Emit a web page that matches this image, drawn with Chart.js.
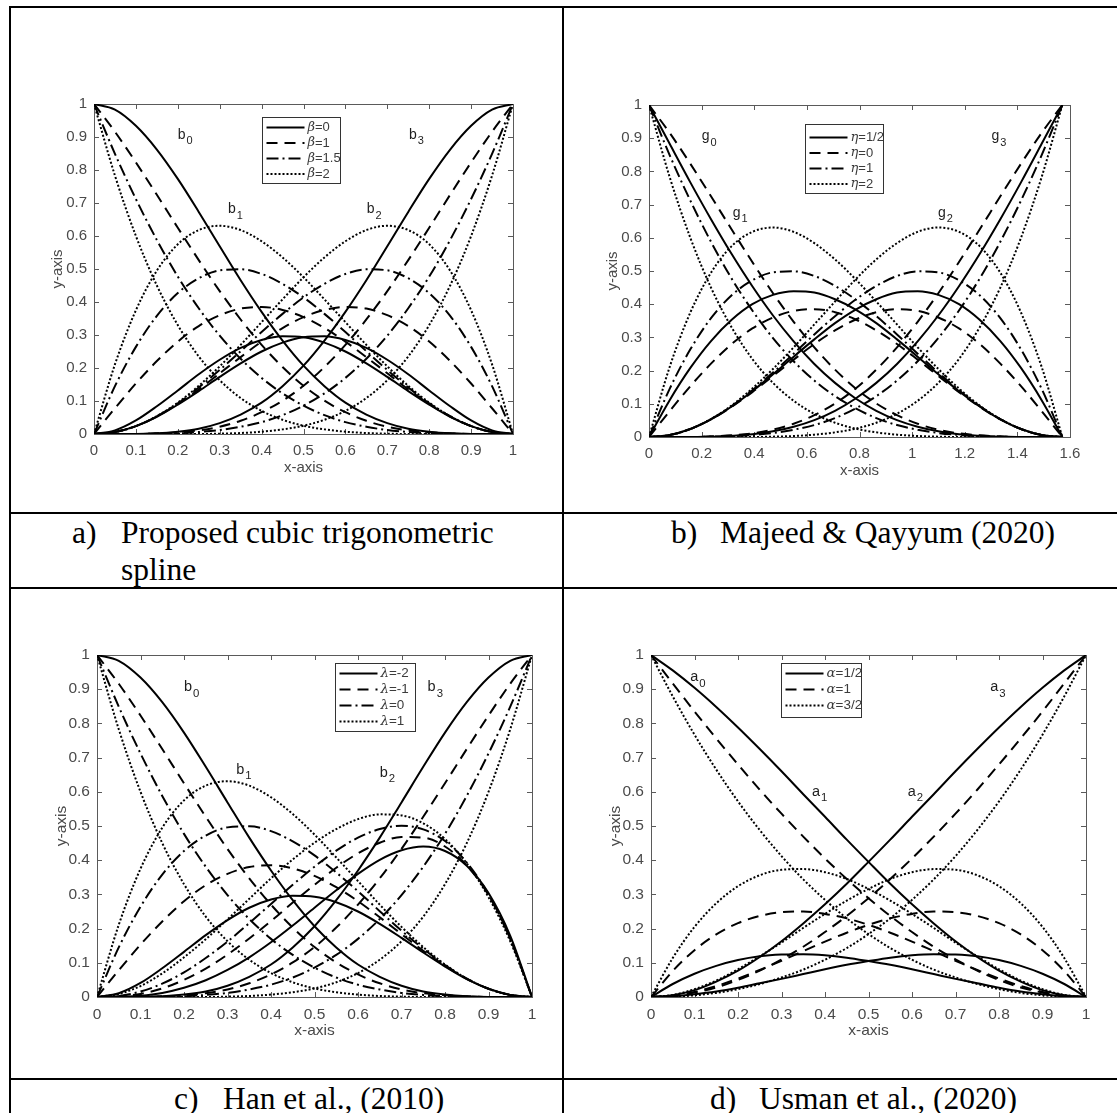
<!DOCTYPE html>
<html>
<head>
<meta charset="utf-8">
<script src="https://cdn.jsdelivr.net/npm/chart.js@4.4.1/dist/chart.umd.min.js"></script>
<style>
  html, body { margin: 0; padding: 0; background: #fff; }
  #page { position: relative; width: 1117px; height: 1113px; overflow: hidden; background: #fff; }
  .rule { position: absolute; background: #000; }
  .cap { position: absolute; font-family: "Liberation Serif", "Times New Roman", serif; font-size: 31.5px; line-height: 37px; color: #000; white-space: nowrap; }
  .panel { position: absolute; }
  .panel canvas { display: block; }
</style>
</head>
<body>
<div id="page">
  <div class="rule" style="left:9px;top:6px;width:1108px;height:2px"></div>
  <div class="rule" style="left:9px;top:6px;width:2px;height:1107px"></div>
  <div class="rule" style="left:562px;top:6px;width:2px;height:1107px"></div>
  <div class="rule" style="left:9px;top:512px;width:1108px;height:2px"></div>
  <div class="rule" style="left:9px;top:587px;width:1108px;height:2px"></div>
  <div class="rule" style="left:9px;top:1078px;width:1108px;height:2px"></div>

  <div class="panel" id="pa"><canvas></canvas></div>
  <div class="panel" id="pb"><canvas></canvas></div>
  <div class="panel" id="pc"><canvas></canvas></div>
  <div class="panel" id="pd"><canvas></canvas></div>

  <div class="cap" style="left:72px;top:514px">a)</div>
  <div class="cap" style="left:121px;top:514px">Proposed cubic trigonometric</div>
  <div class="cap" style="left:121px;top:551px">spline</div>
  <div class="cap" style="left:671px;top:514px">b)</div>
  <div class="cap" style="left:720px;top:514px">Majeed &amp; Qayyum (2020)</div>
  <div class="cap" style="left:174px;top:1080px">c)</div>
  <div class="cap" style="left:223px;top:1080px">Han et al., (2010)</div>
  <div class="cap" style="left:710px;top:1080px">d)</div>
  <div class="cap" style="left:759px;top:1080px">Usman et al., (2020)</div>
</div>

<script>
// ---------- sample grids and tick labels ----------
const tGrid = [0, 0.05, 0.1, 0.15, 0.2, 0.25, 0.3, 0.35, 0.4, 0.45, 0.5, 0.55, 0.6, 0.65, 0.7, 0.75, 0.8, 0.85, 0.9, 0.95, 1];
const thetaGrid = [0, 0.0785, 0.1571, 0.2356, 0.3142, 0.3927, 0.4712, 0.5498, 0.6283, 0.7069, 0.7854, 0.8639, 0.9425, 1.0210, 1.0996, 1.1781, 1.2566, 1.3352, 1.4137, 1.4923, 1.5708];

const unitTicks = [0, 0.1, 0.2, 0.3, 0.4, 0.5, 0.6, 0.7, 0.8, 0.9, 1];
const unitTickLabels = ['0', '0.1', '0.2', '0.3', '0.4', '0.5', '0.6', '0.7', '0.8', '0.9', '1'];
const thetaTicks = [0, 0.2, 0.4, 0.6, 0.8, 1, 1.2, 1.4, 1.6];
const thetaTickLabels = ['0', '0.2', '0.4', '0.6', '0.8', '1', '1.2', '1.4', '1.6'];

// ---------- (a) proposed basis, beta = 0, 1, 1.5, 2 ----------
const propB0_beta0   = [1, 0.983, 0.934, 0.862, 0.773, 0.673, 0.569, 0.466, 0.370, 0.283, 0.207, 0.145, 0.095, 0.059, 0.033, 0.016, 0.007, 0.002, 0, 0, 0];
const propB1_beta0   = [0, 0.011, 0.041, 0.084, 0.132, 0.181, 0.225, 0.261, 0.285, 0.296, 0.293, 0.277, 0.250, 0.214, 0.173, 0.130, 0.089, 0.052, 0.024, 0.006, 0];
const propB2_beta0   = [0, 0.006, 0.024, 0.052, 0.089, 0.130, 0.173, 0.214, 0.250, 0.277, 0.293, 0.296, 0.285, 0.261, 0.225, 0.181, 0.132, 0.084, 0.041, 0.011, 0];
const propB3_beta0   = [0, 0, 0, 0.002, 0.007, 0.016, 0.033, 0.059, 0.095, 0.145, 0.207, 0.283, 0.370, 0.466, 0.569, 0.673, 0.773, 0.862, 0.934, 0.983, 1];
const propB0_beta1   = [1, 0.916, 0.823, 0.725, 0.625, 0.527, 0.433, 0.347, 0.270, 0.203, 0.146, 0.101, 0.066, 0.040, 0.022, 0.011, 0.005, 0.002, 0, 0, 0];
const propB1_beta1   = [0, 0.078, 0.153, 0.221, 0.280, 0.327, 0.360, 0.380, 0.385, 0.376, 0.354, 0.321, 0.280, 0.233, 0.184, 0.135, 0.091, 0.053, 0.024, 0.006, 0];
const propB2_beta1   = [0, 0.006, 0.024, 0.053, 0.091, 0.135, 0.184, 0.233, 0.280, 0.321, 0.354, 0.376, 0.385, 0.380, 0.360, 0.327, 0.280, 0.221, 0.153, 0.078, 0];
const propB3_beta1   = [0, 0, 0, 0.002, 0.005, 0.011, 0.022, 0.040, 0.066, 0.101, 0.146, 0.203, 0.270, 0.347, 0.433, 0.527, 0.625, 0.725, 0.823, 0.916, 1];
const propB0_beta15  = [1, 0.849, 0.712, 0.588, 0.477, 0.381, 0.298, 0.228, 0.170, 0.123, 0.086, 0.057, 0.036, 0.022, 0.012, 0.006, 0.002, 0.001, 0, 0, 0];
const propB1_beta15  = [0, 0.145, 0.264, 0.358, 0.427, 0.472, 0.496, 0.499, 0.485, 0.455, 0.414, 0.364, 0.309, 0.251, 0.194, 0.141, 0.093, 0.054, 0.024, 0.006, 0];
const propB2_beta15  = [0, 0.006, 0.024, 0.054, 0.093, 0.141, 0.194, 0.251, 0.309, 0.364, 0.414, 0.455, 0.485, 0.499, 0.496, 0.472, 0.427, 0.358, 0.264, 0.145, 0];
const propB3_beta15  = [0, 0, 0, 0.001, 0.002, 0.006, 0.012, 0.022, 0.036, 0.057, 0.086, 0.123, 0.170, 0.228, 0.298, 0.381, 0.477, 0.588, 0.712, 0.849, 1];
const propB0_beta2   = [1, 0.783, 0.600, 0.450, 0.330, 0.235, 0.163, 0.109, 0.070, 0.043, 0.025, 0.014, 0.007, 0.003, 0.001, 0, 0, 0, 0, 0, 0];
const propB1_beta2   = [0, 0.211, 0.375, 0.495, 0.575, 0.618, 0.631, 0.618, 0.584, 0.535, 0.475, 0.408, 0.339, 0.270, 0.205, 0.146, 0.095, 0.054, 0.024, 0.006, 0];
const propB2_beta2   = [0, 0.006, 0.024, 0.054, 0.095, 0.146, 0.205, 0.270, 0.339, 0.408, 0.475, 0.535, 0.584, 0.618, 0.631, 0.618, 0.575, 0.495, 0.375, 0.211, 0];
const propB3_beta2   = [0, 0, 0, 0, 0, 0, 0.001, 0.003, 0.007, 0.014, 0.025, 0.043, 0.070, 0.109, 0.163, 0.235, 0.330, 0.450, 0.600, 0.783, 1];
const betaLabels = ['β=0', 'β=1', 'β=1.5', 'β=2'];

// ---------- (b) Majeed & Qayyum, eta = 1/2, 0, 1, 2 ----------
const majG0_eta05 = [1, 0.883, 0.767, 0.656, 0.551, 0.454, 0.366, 0.288, 0.220, 0.163, 0.116, 0.079, 0.051, 0.031, 0.017, 0.008, 0.004, 0.001, 0, 0, 0];
const majG1_eta05 = [0, 0.111, 0.208, 0.289, 0.353, 0.400, 0.428, 0.439, 0.435, 0.415, 0.384, 0.343, 0.294, 0.242, 0.189, 0.138, 0.092, 0.053, 0.024, 0.006, 0];
const majG2_eta05 = [0, 0.006, 0.024, 0.053, 0.092, 0.138, 0.189, 0.242, 0.294, 0.343, 0.384, 0.415, 0.435, 0.439, 0.428, 0.400, 0.353, 0.289, 0.208, 0.111, 0];
const majG3_eta05 = [0, 0, 0, 0.001, 0.004, 0.008, 0.017, 0.031, 0.051, 0.079, 0.116, 0.163, 0.220, 0.288, 0.366, 0.454, 0.551, 0.656, 0.767, 0.883, 1];
const majG0_eta0  = [1, 0.916, 0.823, 0.725, 0.625, 0.527, 0.433, 0.347, 0.270, 0.203, 0.146, 0.101, 0.066, 0.040, 0.022, 0.011, 0.005, 0.002, 0, 0, 0];
const majG1_eta0  = [0, 0.078, 0.153, 0.221, 0.280, 0.327, 0.360, 0.380, 0.385, 0.376, 0.354, 0.321, 0.280, 0.233, 0.184, 0.135, 0.091, 0.053, 0.024, 0.006, 0];
const majG2_eta0  = [0, 0.006, 0.024, 0.053, 0.091, 0.135, 0.184, 0.233, 0.280, 0.321, 0.354, 0.376, 0.385, 0.380, 0.360, 0.327, 0.280, 0.221, 0.153, 0.078, 0];
const majG3_eta0  = [0, 0, 0, 0.002, 0.005, 0.011, 0.022, 0.040, 0.066, 0.101, 0.146, 0.203, 0.270, 0.347, 0.433, 0.527, 0.625, 0.725, 0.823, 0.916, 1];
const majG0_eta1  = [1, 0.849, 0.712, 0.588, 0.477, 0.381, 0.298, 0.228, 0.170, 0.123, 0.086, 0.057, 0.036, 0.022, 0.012, 0.006, 0.002, 0.001, 0, 0, 0];
const majG1_eta1  = [0, 0.145, 0.264, 0.358, 0.427, 0.472, 0.496, 0.499, 0.485, 0.455, 0.414, 0.364, 0.309, 0.251, 0.194, 0.141, 0.093, 0.054, 0.024, 0.006, 0];
const majG2_eta1  = [0, 0.006, 0.024, 0.054, 0.093, 0.141, 0.194, 0.251, 0.309, 0.364, 0.414, 0.455, 0.485, 0.499, 0.496, 0.472, 0.427, 0.358, 0.264, 0.145, 0];
const majG3_eta1  = [0, 0, 0, 0.001, 0.002, 0.006, 0.012, 0.022, 0.036, 0.057, 0.086, 0.123, 0.170, 0.228, 0.298, 0.381, 0.477, 0.588, 0.712, 0.849, 1];
const majG0_eta2  = [1, 0.783, 0.600, 0.450, 0.330, 0.235, 0.163, 0.109, 0.070, 0.043, 0.025, 0.014, 0.007, 0.003, 0.001, 0, 0, 0, 0, 0, 0];
const majG1_eta2  = [0, 0.211, 0.375, 0.495, 0.575, 0.618, 0.631, 0.618, 0.584, 0.535, 0.475, 0.408, 0.339, 0.270, 0.205, 0.146, 0.095, 0.054, 0.024, 0.006, 0];
const majG2_eta2  = [0, 0.006, 0.024, 0.054, 0.095, 0.146, 0.205, 0.270, 0.339, 0.408, 0.475, 0.535, 0.584, 0.618, 0.631, 0.618, 0.575, 0.495, 0.375, 0.211, 0];
const majG3_eta2  = [0, 0, 0, 0, 0, 0, 0.001, 0.003, 0.007, 0.014, 0.025, 0.043, 0.070, 0.109, 0.163, 0.235, 0.330, 0.450, 0.600, 0.783, 1];
const etaLabels = ['η=1/2', 'η=0', 'η=1', 'η=2'];

// ---------- (c) Han et al., lambda = -2, -1, 0, 1 ----------
const hanB0_lamM2 = [1, 0.983, 0.934, 0.862, 0.773, 0.673, 0.569, 0.466, 0.370, 0.283, 0.207, 0.145, 0.095, 0.059, 0.033, 0.016, 0.007, 0.002, 0, 0, 0];
const hanB1_lamM2 = [0, 0.011, 0.041, 0.084, 0.132, 0.181, 0.225, 0.261, 0.285, 0.296, 0.293, 0.277, 0.250, 0.214, 0.173, 0.130, 0.089, 0.052, 0.024, 0.006, 0];
const hanB2_lamM2 = [0, 0.001, 0.004, 0.012, 0.027, 0.049, 0.079, 0.116, 0.160, 0.209, 0.261, 0.312, 0.360, 0.401, 0.429, 0.440, 0.427, 0.384, 0.304, 0.179, 0];
const hanB3_lamM2 = [0, 0, 0, 0.002, 0.007, 0.016, 0.033, 0.059, 0.095, 0.145, 0.207, 0.283, 0.370, 0.466, 0.569, 0.673, 0.773, 0.862, 0.934, 0.983, 1];
const hanB0_lamM1 = [1, 0.916, 0.823, 0.725, 0.625, 0.527, 0.433, 0.347, 0.270, 0.203, 0.146, 0.101, 0.066, 0.040, 0.022, 0.011, 0.005, 0.002, 0, 0, 0];
const hanB1_lamM1 = [0, 0.078, 0.153, 0.221, 0.280, 0.327, 0.360, 0.380, 0.385, 0.376, 0.354, 0.321, 0.280, 0.233, 0.184, 0.135, 0.091, 0.053, 0.024, 0.006, 0];
const hanB2_lamM1 = [0, 0.002, 0.009, 0.025, 0.050, 0.083, 0.124, 0.171, 0.222, 0.276, 0.328, 0.378, 0.420, 0.451, 0.468, 0.466, 0.440, 0.385, 0.298, 0.171, 0];
const hanB3_lamM1 = [0, 0, 0, 0.002, 0.005, 0.011, 0.022, 0.040, 0.066, 0.101, 0.146, 0.203, 0.270, 0.347, 0.433, 0.527, 0.625, 0.725, 0.823, 0.916, 1];
const hanB0_lam0  = [1, 0.849, 0.712, 0.588, 0.477, 0.381, 0.298, 0.228, 0.170, 0.123, 0.086, 0.057, 0.036, 0.022, 0.012, 0.006, 0.002, 0.001, 0, 0, 0];
const hanB1_lam0  = [0, 0.145, 0.264, 0.358, 0.427, 0.472, 0.496, 0.499, 0.485, 0.455, 0.414, 0.364, 0.309, 0.251, 0.194, 0.141, 0.093, 0.054, 0.024, 0.006, 0];
const hanB2_lam0  = [0, 0.003, 0.016, 0.039, 0.072, 0.114, 0.162, 0.216, 0.272, 0.328, 0.381, 0.428, 0.466, 0.491, 0.501, 0.490, 0.456, 0.393, 0.300, 0.170, 0];
const hanB3_lam0  = [0, 0, 0, 0.001, 0.002, 0.006, 0.012, 0.022, 0.036, 0.057, 0.086, 0.123, 0.170, 0.228, 0.298, 0.381, 0.477, 0.588, 0.712, 0.849, 1];
const hanB0_lam1  = [1, 0.783, 0.600, 0.450, 0.330, 0.235, 0.163, 0.109, 0.070, 0.043, 0.025, 0.014, 0.007, 0.003, 0.001, 0, 0, 0, 0, 0, 0];
const hanB1_lam1  = [0, 0.211, 0.375, 0.495, 0.575, 0.618, 0.631, 0.618, 0.584, 0.535, 0.475, 0.408, 0.339, 0.270, 0.205, 0.146, 0.095, 0.054, 0.024, 0.006, 0];
const hanB2_lam1  = [0, 0.009, 0.032, 0.069, 0.116, 0.169, 0.227, 0.287, 0.347, 0.402, 0.451, 0.491, 0.520, 0.534, 0.531, 0.508, 0.462, 0.391, 0.292, 0.163, 0];
const hanB3_lam1  = [0, 0, 0, 0, 0, 0, 0.001, 0.003, 0.007, 0.014, 0.025, 0.043, 0.070, 0.109, 0.163, 0.235, 0.330, 0.450, 0.600, 0.783, 1];
const lambdaLabels = ['λ=-2', 'λ=-1', 'λ=0', 'λ=1'];

// ---------- (d) Usman et al., alpha = 1/2, 1, 3/2 ----------
const usmA0_alpha05 = [1, 0.955, 0.904, 0.848, 0.788, 0.725, 0.660, 0.593, 0.527, 0.460, 0.395, 0.331, 0.271, 0.215, 0.163, 0.117, 0.077, 0.045, 0.020, 0.005, 0];
const usmA1_alpha05 = [0, 0.038, 0.068, 0.091, 0.108, 0.119, 0.124, 0.125, 0.122, 0.115, 0.105, 0.094, 0.081, 0.067, 0.053, 0.040, 0.027, 0.016, 0.008, 0.002, 0];
const usmA2_alpha05 = [0, 0.002, 0.008, 0.016, 0.027, 0.040, 0.053, 0.067, 0.081, 0.094, 0.105, 0.115, 0.122, 0.125, 0.124, 0.119, 0.108, 0.091, 0.068, 0.038, 0];
const usmA3_alpha05 = [0, 0.005, 0.020, 0.045, 0.077, 0.117, 0.163, 0.215, 0.271, 0.331, 0.395, 0.460, 0.527, 0.593, 0.660, 0.725, 0.788, 0.848, 0.904, 0.955, 1];
const usmA0_alpha1  = [1, 0.917, 0.835, 0.756, 0.680, 0.606, 0.536, 0.469, 0.405, 0.345, 0.289, 0.237, 0.190, 0.147, 0.110, 0.077, 0.050, 0.028, 0.013, 0.003, 0];
const usmA1_alpha1  = [0, 0.076, 0.137, 0.183, 0.216, 0.237, 0.248, 0.250, 0.243, 0.230, 0.211, 0.188, 0.162, 0.134, 0.106, 0.079, 0.054, 0.032, 0.015, 0.004, 0];
const usmA2_alpha1  = [0, 0.004, 0.015, 0.032, 0.054, 0.079, 0.106, 0.134, 0.162, 0.188, 0.211, 0.230, 0.243, 0.250, 0.248, 0.237, 0.216, 0.183, 0.137, 0.076, 0];
const usmA3_alpha1  = [0, 0.003, 0.013, 0.028, 0.050, 0.077, 0.110, 0.147, 0.190, 0.237, 0.289, 0.345, 0.405, 0.469, 0.536, 0.606, 0.680, 0.756, 0.835, 0.917, 1];
const usmA0_alpha15 = [1, 0.879, 0.767, 0.665, 0.572, 0.488, 0.412, 0.344, 0.284, 0.230, 0.184, 0.143, 0.109, 0.080, 0.057, 0.038, 0.023, 0.012, 0.005, 0.001, 0];
const usmA1_alpha15 = [0, 0.114, 0.205, 0.274, 0.324, 0.356, 0.372, 0.374, 0.365, 0.345, 0.316, 0.282, 0.243, 0.202, 0.159, 0.119, 0.081, 0.048, 0.023, 0.006, 0];
const usmA2_alpha15 = [0, 0.006, 0.023, 0.048, 0.081, 0.119, 0.159, 0.202, 0.243, 0.282, 0.316, 0.345, 0.365, 0.374, 0.372, 0.356, 0.324, 0.274, 0.205, 0.114, 0];
const usmA3_alpha15 = [0, 0.001, 0.005, 0.012, 0.023, 0.038, 0.057, 0.080, 0.109, 0.143, 0.184, 0.230, 0.284, 0.344, 0.412, 0.488, 0.572, 0.665, 0.767, 0.879, 1];
const alphaLabels = ['α=1/2', 'α=1', 'α=3/2'];

// ---------- drawing ----------
const FONT = '"Liberation Sans", Arial, Helvetica, sans-serif';
const INK = '#4a4a4a';
const DASHES = { solid: [], dashed: [11, 7], dashdot: [12, 4, 2, 4], dotted: [2, 2] };

function curve(xs, ys, style) {
  return {
    data: xs.map((x, i) => ({ x: x, y: ys[i] })),
    borderColor: '#000', borderWidth: 2, borderDash: DASHES[style],
    borderCapStyle: 'butt', borderJoinStyle: 'round',
    pointRadius: 0, fill: false, cubicInterpolationMode: 'monotone'
  };
}

// axes box, inward tick marks, legend and curve names
const panelDecor = {
  id: 'panelDecor',
  beforeDatasetsDraw(chart, args, opts) {
    const { ctx, chartArea: a, scales } = chart;
    ctx.save();
    ctx.strokeStyle = '#5a5a5a';
    ctx.lineWidth = 1;
    ctx.strokeRect(Math.round(a.left) + 0.5, Math.round(a.top) + 0.5, Math.round(a.right - a.left), Math.round(a.bottom - a.top));
    ctx.beginPath();
    scales.x.ticks.forEach(t => {
      const px = Math.round(scales.x.getPixelForValue(t.value)) + 0.5;
      ctx.moveTo(px, a.bottom); ctx.lineTo(px, a.bottom - 5);
      ctx.moveTo(px, a.top); ctx.lineTo(px, a.top + 5);
    });
    scales.y.ticks.forEach(t => {
      const py = Math.round(scales.y.getPixelForValue(t.value)) + 0.5;
      ctx.moveTo(a.left, py); ctx.lineTo(a.left + 5, py);
      ctx.moveTo(a.right, py); ctx.lineTo(a.right - 5, py);
    });
    ctx.stroke();
    ctx.restore();
  },
  afterDatasetsDraw(chart, args, opts) {
    const { ctx, chartArea: a, scales } = chart;
    const fs = opts.fontScale || 1;
    ctx.save();
    // curve names with subscripts
    opts.names.forEach(n => {
      const px = scales.x.getPixelForValue(n.x);
      const py = scales.y.getPixelForValue(n.y);
      ctx.fillStyle = '#1e1e1e';
      ctx.textBaseline = 'middle';
      ctx.textAlign = 'left';
      ctx.font = (14 * fs) + 'px ' + FONT;
      ctx.fillText(n.text, px, py);
      const w = ctx.measureText(n.text).width;
      ctx.font = (11 * fs) + 'px ' + FONT;
      ctx.fillText(n.sub, px + w + 1, py + 6 * fs);
    });
    // legend
    const L = opts.legend;
    const bx = Math.round(a.left + L.dx) + 0.5, by = Math.round(a.top + L.dy) + 0.5;
    ctx.fillStyle = '#fff';
    ctx.fillRect(bx, by, L.w, L.h);
    ctx.strokeStyle = '#333';
    ctx.lineWidth = 1;
    ctx.setLineDash([]);
    ctx.strokeRect(bx, by, L.w, L.h);
    L.labels.forEach((lab, i) => {
      const y = by + L.row0 + i * L.gap;
      ctx.strokeStyle = '#000';
      ctx.lineWidth = 2;
      ctx.setLineDash(DASHES[L.styles[i]]);
      ctx.beginPath();
      ctx.moveTo(bx + 4, y); ctx.lineTo(bx + 42, y);
      ctx.stroke();
      ctx.setLineDash([]);
      ctx.fillStyle = '#3c3c3c';
      ctx.textBaseline = 'middle';
      ctx.textAlign = 'left';
      const sym = lab.charAt(0), rest = lab.slice(1);
      ctx.font = 'italic ' + (13 * fs) + 'px "DejaVu Serif", serif';
      ctx.fillText(sym, bx + 45, y);
      const sw = ctx.measureText(sym).width;
      ctx.font = (13 * fs) + 'px ' + FONT;
      ctx.fillText(rest, bx + 45 + sw, y);
    });
    ctx.restore();
  }
};

function drawPanel(id, p) {
  const host = document.getElementById(id);
  const W = p.box.R - p.box.L + 105, H = p.box.B - p.box.T + 80;
  host.style.left = (p.box.L - 80) + 'px';
  host.style.top = (p.box.T - 20) + 'px';
  const cv = host.querySelector('canvas');
  cv.width = W; cv.height = H;
  cv.style.width = W + 'px'; cv.style.height = H + 'px';
  const fs = p.fontScale || 1;
  const tickFont = { family: FONT, size: 15 * fs };
  new Chart(cv, {
    type: 'line',
    data: { datasets: p.datasets },
    options: {
      responsive: false, animation: false, devicePixelRatio: 1,
      layout: { padding: { top: 20, right: 25, bottom: 0, left: 0 } },
      plugins: {
        legend: { display: false }, tooltip: { enabled: false },
        panelDecor: { legend: p.legend, names: p.names, fontScale: fs }
      },
      scales: {
        x: {
          type: 'linear', min: 0, max: p.xMax,
          grid: { display: false, drawTicks: false }, border: { display: false },
          ticks: { font: tickFont, color: INK, padding: 8, maxRotation: 0, autoSkip: false,
                   callback: (v, i) => p.xLabels[i] },
          afterBuildTicks: ax => { ax.ticks = p.xTicks.map(v => ({ value: v })); },
          afterFit: ax => { ax.height = 60; },
          title: { display: true, text: 'x-axis', font: tickFont, color: INK, padding: { top: 0, bottom: 17 } }
        },
        y: {
          type: 'linear', min: 0, max: 1,
          grid: { display: false, drawTicks: false }, border: { display: false },
          ticks: { font: tickFont, color: INK, padding: 7, autoSkip: false,
                   callback: (v, i) => unitTickLabels[i] },
          afterBuildTicks: ax => { ax.ticks = unitTicks.map(v => ({ value: v })); },
          afterFit: ax => { ax.width = 80; },
          title: { display: true, text: 'y-axis', font: tickFont, color: INK, padding: { top: 35, bottom: 0 } }
        }
      }
    },
    plugins: [panelDecor]
  });
}

const styles4 = ['solid', 'dashed', 'dashdot', 'dotted'];

drawPanel('pa', {
  box: { L: 94, T: 104, R: 513, B: 434 }, xMax: 1, xTicks: unitTicks, xLabels: unitTickLabels,
  datasets: [
    curve(tGrid, propB0_beta0, 'solid'), curve(tGrid, propB1_beta0, 'solid'), curve(tGrid, propB2_beta0, 'solid'), curve(tGrid, propB3_beta0, 'solid'),
    curve(tGrid, propB0_beta1, 'dashed'), curve(tGrid, propB1_beta1, 'dashed'), curve(tGrid, propB2_beta1, 'dashed'), curve(tGrid, propB3_beta1, 'dashed'),
    curve(tGrid, propB0_beta15, 'dashdot'), curve(tGrid, propB1_beta15, 'dashdot'), curve(tGrid, propB2_beta15, 'dashdot'), curve(tGrid, propB3_beta15, 'dashdot'),
    curve(tGrid, propB0_beta2, 'dotted'), curve(tGrid, propB1_beta2, 'dotted'), curve(tGrid, propB2_beta2, 'dotted'), curve(tGrid, propB3_beta2, 'dotted')
  ],
  legend: { dx: 168, dy: 13, w: 78, h: 66, row0: 10, gap: 15.5, labels: betaLabels, styles: styles4 },
  names: [
    { text: 'b', sub: '0', x: 0.20, y: 0.905 }, { text: 'b', sub: '3', x: 0.752, y: 0.905 },
    { text: 'b', sub: '1', x: 0.32, y: 0.68 }, { text: 'b', sub: '2', x: 0.651, y: 0.68 }
  ]
});

drawPanel('pb', {
  box: { L: 649, T: 105, R: 1070, B: 437 }, xMax: 1.6, xTicks: thetaTicks, xLabels: thetaTickLabels,
  datasets: [
    curve(thetaGrid, majG0_eta05, 'solid'), curve(thetaGrid, majG1_eta05, 'solid'), curve(thetaGrid, majG2_eta05, 'solid'), curve(thetaGrid, majG3_eta05, 'solid'),
    curve(thetaGrid, majG0_eta0, 'dashed'), curve(thetaGrid, majG1_eta0, 'dashed'), curve(thetaGrid, majG2_eta0, 'dashed'), curve(thetaGrid, majG3_eta0, 'dashed'),
    curve(thetaGrid, majG0_eta1, 'dashdot'), curve(thetaGrid, majG1_eta1, 'dashdot'), curve(thetaGrid, majG2_eta1, 'dashdot'), curve(thetaGrid, majG3_eta1, 'dashdot'),
    curve(thetaGrid, majG0_eta2, 'dotted'), curve(thetaGrid, majG1_eta2, 'dotted'), curve(thetaGrid, majG2_eta2, 'dotted'), curve(thetaGrid, majG3_eta2, 'dotted')
  ],
  legend: { dx: 156, dy: 19, w: 78, h: 69, row0: 13, gap: 15.5, labels: etaLabels, styles: styles4 },
  names: [
    { text: 'g', sub: '0', x: 0.20, y: 0.905 }, { text: 'g', sub: '3', x: 1.302, y: 0.905 },
    { text: 'g', sub: '1', x: 0.318, y: 0.675 }, { text: 'g', sub: '2', x: 1.098, y: 0.675 }
  ]
});

drawPanel('pc', {
  box: { L: 97, T: 655, R: 532, B: 997 }, xMax: 1, xTicks: unitTicks, xLabels: unitTickLabels, fontScale: 1.035,
  datasets: [
    curve(tGrid, hanB0_lamM2, 'solid'), curve(tGrid, hanB1_lamM2, 'solid'), curve(tGrid, hanB2_lamM2, 'solid'), curve(tGrid, hanB3_lamM2, 'solid'),
    curve(tGrid, hanB0_lamM1, 'dashed'), curve(tGrid, hanB1_lamM1, 'dashed'), curve(tGrid, hanB2_lamM1, 'dashed'), curve(tGrid, hanB3_lamM1, 'dashed'),
    curve(tGrid, hanB0_lam0, 'dashdot'), curve(tGrid, hanB1_lam0, 'dashdot'), curve(tGrid, hanB2_lam0, 'dashdot'), curve(tGrid, hanB3_lam0, 'dashdot'),
    curve(tGrid, hanB0_lam1, 'dotted'), curve(tGrid, hanB1_lam1, 'dotted'), curve(tGrid, hanB2_lam1, 'dotted'), curve(tGrid, hanB3_lam1, 'dotted')
  ],
  legend: { dx: 238, dy: 8, w: 80, h: 68, row0: 10, gap: 16, labels: lambdaLabels, styles: styles4 },
  names: [
    { text: 'b', sub: '0', x: 0.20, y: 0.905 }, { text: 'b', sub: '3', x: 0.76, y: 0.905 },
    { text: 'b', sub: '1', x: 0.32, y: 0.665 }, { text: 'b', sub: '2', x: 0.65, y: 0.655 }
  ]
});

drawPanel('pd', {
  box: { L: 651, T: 655, R: 1086, B: 997 }, xMax: 1, xTicks: unitTicks, xLabels: unitTickLabels, fontScale: 1.035,
  datasets: [
    curve(tGrid, usmA0_alpha05, 'solid'), curve(tGrid, usmA1_alpha05, 'solid'), curve(tGrid, usmA2_alpha05, 'solid'), curve(tGrid, usmA3_alpha05, 'solid'),
    curve(tGrid, usmA0_alpha1, 'dashed'), curve(tGrid, usmA1_alpha1, 'dashed'), curve(tGrid, usmA2_alpha1, 'dashed'), curve(tGrid, usmA3_alpha1, 'dashed'),
    curve(tGrid, usmA0_alpha15, 'dotted'), curve(tGrid, usmA1_alpha15, 'dotted'), curve(tGrid, usmA2_alpha15, 'dotted'), curve(tGrid, usmA3_alpha15, 'dotted')
  ],
  legend: { dx: 130, dy: 8, w: 80, h: 54, row0: 10, gap: 16, labels: alphaLabels, styles: ['solid', 'dashed', 'dotted'] },
  names: [
    { text: 'a', sub: '0', x: 0.09, y: 0.935 }, { text: 'a', sub: '3', x: 0.78, y: 0.905 },
    { text: 'a', sub: '1', x: 0.37, y: 0.60 }, { text: 'a', sub: '2', x: 0.59, y: 0.60 }
  ]
});
</script>
</body>
</html>
